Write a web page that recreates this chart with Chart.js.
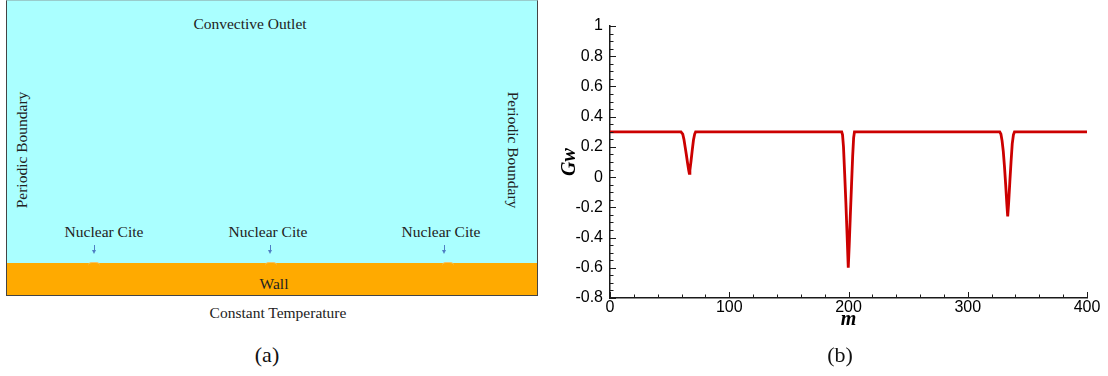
<!DOCTYPE html>
<html>
<head>
<meta charset="utf-8">
<script src="https://cdn.jsdelivr.net/npm/chart.js@4.4.0/dist/chart.umd.min.js"></script>
<style>
  html, body { margin: 0; padding: 0; width: 1108px; height: 376px; overflow: hidden; background: #fff; }
  body { position: relative; font-family: 'Liberation Serif', 'Times New Roman', serif; color: #222; }
  .abs { position: absolute; white-space: nowrap; }
  .c { transform: translate(-50%, -50%); }
  .lbl { font-size: 15.5px; }
  #domain { position: absolute; left: 6px; top: 0; width: 530px; height: 294px;
            background: #aaffff; border: 1.5px solid #444; border-top: 1px solid #9cc; }
  #wall { position: absolute; left: 0; right: 0; bottom: 0; height: 32px; background: #ffaa00; }
  .bump { position: absolute; top: 262px; width: 12px; height: 3px; margin-left: -6px;
          background: #ffaa00; border-radius: 6px 6px 0 0; border-top: 1px solid #f2c46a; }
  .arrow { position: absolute; top: 245px; width: 1px; height: 6px; background: #4f7fc4; }
  .arrow::after { content: ''; position: absolute; left: -2px; top: 5px;
                  border-left: 2.5px solid transparent; border-right: 2.5px solid transparent;
                  border-top: 4px solid #4f7fc4; }
  .caption { font-size: 22px; color: #111; }
  #plotB { position: absolute; left: 550px; top: 0; width: 600px; height: 345px; }
</style>
</head>
<body>

<!-- (a) schematic -->
<div id="domain"><div id="wall"></div></div>
<div class="abs c lbl" style="left:250px; top:24px;">Convective Outlet</div>
<div class="abs lbl" style="left:22px; top:150px; transform: translate(-50%,-50%) rotate(-90deg);">Periodic Boundary</div>
<div class="abs lbl" style="left:513px; top:150px; transform: translate(-50%,-50%) rotate(90deg);">Periodic Boundary</div>
<div class="abs c lbl" style="left:104px; top:232px;">Nuclear Cite</div>
<div class="abs c lbl" style="left:268px; top:232px;">Nuclear Cite</div>
<div class="abs c lbl" style="left:441px; top:232px;">Nuclear Cite</div>
<div class="arrow" style="left:94px;"></div>
<div class="arrow" style="left:270px;"></div>
<div class="arrow" style="left:444px;"></div>
<div class="bump" style="left:94px;"></div>
<div class="bump" style="left:271px;"></div>
<div class="bump" style="left:448px;"></div>
<div class="abs c lbl" style="left:274px; top:284px;">Wall</div>
<div class="abs c lbl" style="left:278px; top:313px;">Constant Temperature</div>
<div class="abs c caption" style="left:267px; top:355px;">(a)</div>

<!-- (b) chart -->
<div id="plotB"><canvas id="gwChart"></canvas></div>
<div class="abs c caption" style="left:840px; top:355px;">(b)</div>

<script>
// ========================================
// Data
// ========================================

const mValues = [0,
  59.5, 61, 62, 63, 64, 65, 66, 66.5, 67, 68, 69, 70, 71, 71.8,
  194.3, 195, 195.8, 196.8, 197.8, 198.8, 199.8, 200.6, 201.5, 202.5, 203.5, 204.3, 205,
  326.8, 327.8, 328.8, 329.8, 330.8, 331.8, 332.8, 333.5, 334.3, 335.3, 336.3, 337.3, 338.3, 339.2,
  400];
const gwValues = [0.3,
  0.3, 0.285, 0.25, 0.2, 0.15, 0.095, 0.045, 0.025, 0.045, 0.11, 0.18, 0.245, 0.285, 0.3,
  0.3, 0.28, 0.2, 0.02, -0.17, -0.38, -0.6, -0.45, -0.26, -0.06, 0.14, 0.26, 0.3,
  0.3, 0.285, 0.24, 0.17, 0.07, -0.05, -0.18, -0.26, -0.17, -0.03, 0.1, 0.22, 0.28, 0.3,
  0.3];

const xTicks = [0, 100, 200, 300, 400];
const yTicks = [-0.8, -0.6, -0.4, -0.2, 0, 0.2, 0.4, 0.6, 0.8, 1];
const xMinorStep = 20;
const yMinorStep = 0.05;

// Tecplot style ticks, drawn inside the plot from the axis lines
const innerTicks = {
    id: 'innerTicks',
    afterDatasetsDraw(chart) {
        const { ctx, scales: { x, y } } = chart;
        const x0 = x.getPixelForValue(x.min);
        const y0 = y.getPixelForValue(y.min);
        ctx.save();
        ctx.strokeStyle = '#1a1a1a';
        ctx.lineWidth = 1;
        ctx.beginPath();
        const nx = Math.round((x.max - x.min) / xMinorStep);
        for (let i = 0; i <= nx; i++) {
            const v = x.min + i * xMinorStep;
            const px = Math.round(x.getPixelForValue(v)) + 0.5;
            const len = xTicks.includes(v) ? 6 : 3.5;
            ctx.moveTo(px, y0);
            ctx.lineTo(px, y0 - len);
        }
        const ny = Math.round((y.max - y.min) / yMinorStep);
        for (let i = 0; i <= ny; i++) {
            const v = +(y.min + i * yMinorStep).toFixed(2);
            const py = Math.round(y.getPixelForValue(v)) + 0.5;
            const len = yTicks.some(t => Math.abs(t - v) < 1e-6) ? 6 : 3.5;
            ctx.moveTo(x0, py);
            ctx.lineTo(x0 + len, py);
        }
        ctx.stroke();
        ctx.restore();
    }
};

const tickFont = { family: "'Liberation Sans', Arial, sans-serif", size: 16 };
const titleFont = { family: "'Liberation Serif', 'Times New Roman', serif", size: 20, style: 'italic', weight: 'bold' };

new Chart(document.getElementById('gwChart').getContext('2d'), {
    type: 'scatter',
    data: {
        datasets: [{
            label: 'Gw',
            data: mValues.map((m, i) => ({ x: m, y: gwValues[i] })),
            showLine: true,
            borderColor: '#cc0000',
            borderWidth: 2.8,
            pointRadius: 0,
            tension: 0
        }]
    },
    options: {
        animation: false,
        responsive: true,
        maintainAspectRatio: false,
        layout: { padding: { top: 26, right: 63, left: 0, bottom: 0 } },
        plugins: { legend: { display: false }, tooltip: { enabled: false } },
        scales: {
            x: {
                type: 'linear', min: 0, max: 400,
                afterBuildTicks: s => { s.ticks = xTicks.map(v => ({ value: v })); },
                afterFit: s => { s.height = 47; },
                ticks: { color: '#000', font: tickFont, padding: 0, maxRotation: 0 },
                grid: { display: false, drawTicks: false },
                border: { display: true, color: '#1a1a1a', width: 1.5 },
                title: { display: true, text: 'm', color: '#000', font: titleFont, padding: { top: 0, bottom: 13 } }
            },
            y: {
                type: 'linear', min: -0.8, max: 1,
                afterBuildTicks: s => { s.ticks = yTicks.map(v => ({ value: v })); },
                afterFit: s => { s.width = 60; },
                ticks: { color: '#000', font: tickFont, padding: 7, callback: v => String(Number(v.toFixed(1))) },
                grid: { display: false, drawTicks: false },
                border: { display: true, color: '#1a1a1a', width: 1.5 },
                title: { display: true, text: 'Gw', color: '#000', font: titleFont, padding: { top: 8, bottom: 0 } }
            }
        }
    },
    plugins: [innerTicks]
});
</script>
</body>
</html>
